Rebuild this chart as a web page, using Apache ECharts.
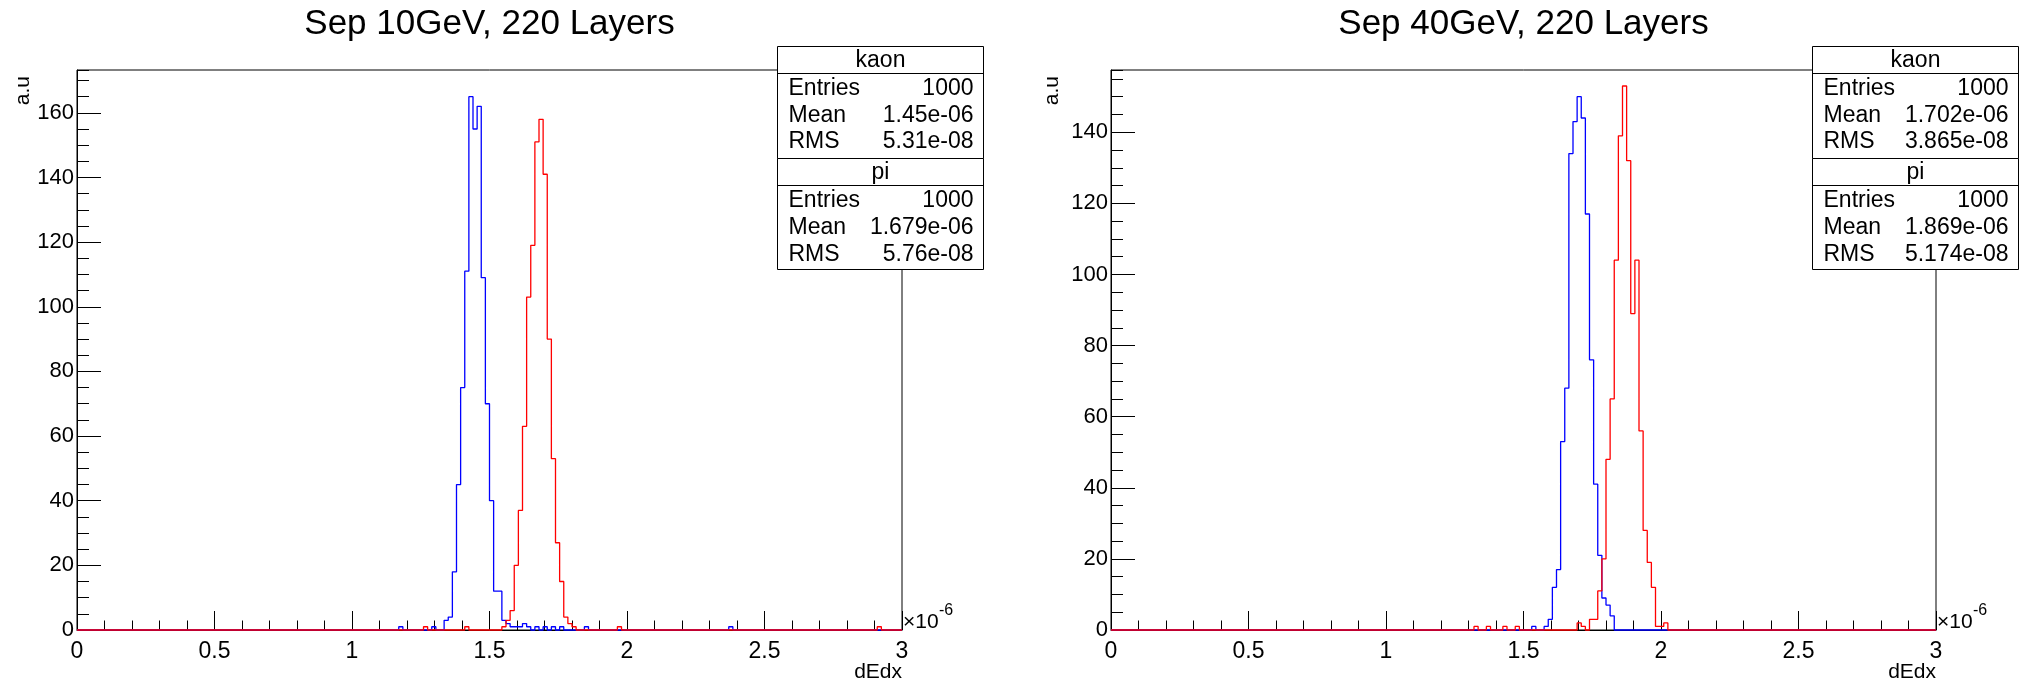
<!DOCTYPE html>
<html>
<head>
<meta charset="utf-8">
<script src="https://cdn.jsdelivr.net/npm/echarts@6/dist/echarts.min.js"></script>
<style>
  html, body { margin: 0; padding: 0; background: #fff; }
  #chart { width: 2025px; height: 682px; }
</style>
</head>
<body>
<div id="chart"></div>
<script>
// dE/dx histograms: 200 bins over [0, 3] x 1e-6
const BIN_WIDTH = 0.015;
const N_BINS = 200;

// 10 GeV sample
const kaon10First = 89;
const kaon10Counts = [3, 4, 18, 45, 75, 111, 165, 155, 162, 109, 70, 40, 12, 12,
                      3, 2, 1, 1, 1, 2, 1, 0, 1, 0, 1, 0, 1, 0, 1];
const kaon10Strays = [78, 86, 123, 158];
const pion10First = 103;
const pion10Counts = [1, 3, 6, 20, 37, 63, 103, 119, 151, 158, 141, 90, 53, 27, 15, 4, 2, 1];
const pion10Strays = [84, 94, 131, 194];

// 40 GeV sample
const kaon40First = 105;
const kaon40Counts = [1, 3, 12, 17, 53, 68, 134, 143, 150, 144, 117, 76, 41, 21, 9, 7, 4];
const kaon40Strays = [102];
const pion40First = 113;
const pion40Counts = [2, 1, 0, 3, 3, 11, 20, 48, 65, 104, 139, 153, 132, 89, 104, 56, 28, 19, 12, 1, 1, 2];
const pion40Strays = [88, 91, 95, 98];

// stat box contents
const statNames = ['Entries', 'Mean', 'RMS'];
const kaon10Stats = ['1000', '1.45e-06', '5.31e-08'];
const pion10Stats = ['1000', '1.679e-06', '5.76e-08'];
const kaon40Stats = ['1000', '1.702e-06', '3.865e-08'];
const pion40Stats = ['1000', '1.869e-06', '5.174e-08'];

const titles = ['Sep 10GeV, 220 Layers', 'Sep 40GeV, 220 Layers'];
const xTickLabels = ['0', '0.5', '1', '1.5', '2', '2.5', '3'];

const FONT = '"Liberation Sans", Arial, Helvetica, sans-serif';

function fillBins(first, counts, strays) {
  const c = new Array(N_BINS).fill(0);
  counts.forEach((v, i) => { c[first + i] += v; });
  strays.forEach(b => { c[b] += 1; });
  return c;
}

// outline of a histogram: flat top across each bin, vertical steps between bins
function outline(bins) {
  const pts = [];
  for (let i = 0; i < N_BINS; i++) {
    pts.push([i * BIN_WIDTH, bins[i]]);
    pts.push([(i + 1) * BIN_WIDTH, bins[i]]);
  }
  return pts;
}

const hists = [
  { kaon: fillBins(kaon10First, kaon10Counts, kaon10Strays),
    pion: fillBins(pion10First, pion10Counts, pion10Strays) },
  { kaon: fillBins(kaon40First, kaon40Counts, kaon40Strays),
    pion: fillBins(pion40First, pion40Counts, pion40Strays) }
];

const panels = [
  { left: 77, top: 70, width: 825, height: 560, auX: 23, boxX: 777, stats: [kaon10Stats, pion10Stats] },
  { left: 1111, top: 70, width: 825, height: 560, auX: 1052, boxX: 1812, stats: [kaon40Stats, pion40Stats] }
];

const grids = [], xAxes = [], yAxes = [], series = [], graphics = [];

panels.forEach((p, k) => {
  const yTop = 1.05 * Math.max(...hists[k].kaon);
  grids.push({
    left: p.left, top: p.top, width: p.width, height: p.height,
    show: true, borderColor: '#000', borderWidth: 1, backgroundColor: 'transparent',
    containLabel: false, outerBoundsMode: 'none'
  });
  xAxes.push({
    gridIndex: k, type: 'value', min: 0, max: 3, interval: 0.5, position: 'bottom',
    axisLine: { show: true, onZero: false, lineStyle: { color: '#000', width: 1 } },
    axisTick: { show: true, inside: true, length: 19, lineStyle: { color: '#000', width: 1 } },
    minorTick: { show: true, splitNumber: 5, length: 9.5, lineStyle: { color: '#000', width: 1 } },
    splitLine: { show: false }, minorSplitLine: { show: false },
    axisLabel: {
      color: '#000', fontFamily: FONT, fontSize: 23, margin: 10,
      formatter: v => xTickLabels[Math.round(v / 0.5)] ?? ''
    }
  });
  // major ticks + labels
  yAxes.push({
    gridIndex: k, type: 'value', min: 0, max: yTop, interval: 20, position: 'left',
    axisLine: { show: true, onZero: false, lineStyle: { color: '#000', width: 1 } },
    axisTick: { show: true, inside: true, length: 24, lineStyle: { color: '#000', width: 1 } },
    splitLine: { show: false },
    axisLabel: { color: '#000', fontFamily: FONT, fontSize: 22, margin: 3, showMaxLabel: false }
  });
  // minor ticks every 5
  yAxes.push({
    gridIndex: k, type: 'value', min: 0, max: yTop, interval: 5, position: 'left', offset: 0,
    axisLine: { show: false },
    axisTick: { show: true, inside: true, length: 12, lineStyle: { color: '#000', width: 1 } },
    splitLine: { show: false },
    axisLabel: { show: false }
  });
  const yIdx = k * 2;
  series.push({
    type: 'line', xAxisIndex: k, yAxisIndex: yIdx, data: outline(hists[k].kaon),
    showSymbol: false, symbol: 'none', clip: false, animation: false, silent: true,
    lineStyle: { color: '#0000ff', width: 1.3 }, z: 3
  });
  series.push({
    type: 'line', xAxisIndex: k, yAxisIndex: yIdx, data: outline(hists[k].pion),
    showSymbol: false, symbol: 'none', clip: false, animation: false, silent: true,
    lineStyle: { color: '#ff0000', width: 1.3 }, z: 4
  });

  const right = p.left + p.width;
  // title
  graphics.push({
    type: 'text', z: 10,
    style: { text: titles[k], x: p.left + p.width / 2, y: 24, fill: '#000',
             font: '35px ' + FONT, textAlign: 'center', textVerticalAlign: 'middle',
             align: 'center', verticalAlign: 'middle' }
  });
  // y title
  graphics.push({
    type: 'text', z: 10, x: p.auX, y: 76, rotation: Math.PI / 2,
    style: { text: 'a.u', x: 0, y: 0, fill: '#000', font: '21px ' + FONT,
             textAlign: 'right', textVerticalAlign: 'middle', align: 'right', verticalAlign: 'middle' }
  });
  // x title
  graphics.push({
    type: 'text', z: 10,
    style: { text: 'dEdx', x: right, y: 672, fill: '#000', font: '21px ' + FONT,
             textAlign: 'right', textVerticalAlign: 'middle', align: 'right', verticalAlign: 'middle' }
  });
  // axis exponent
  graphics.push({
    type: 'text', z: 10,
    style: { text: '\u00d710', x: right + 1, y: 622, fill: '#000', font: '21px ' + FONT,
             textAlign: 'left', textVerticalAlign: 'middle', align: 'left', verticalAlign: 'middle' }
  });
  graphics.push({
    type: 'text', z: 10,
    style: { text: '-6', x: right + 37, y: 611, fill: '#000', font: '16px ' + FONT,
             textAlign: 'left', textVerticalAlign: 'middle', align: 'left', verticalAlign: 'middle' }
  });

  // stat boxes
  const bx = p.boxX + 0.5, bw = 206;
  const boxes = [
    { name: 'kaon', top: 46.5, head: 73.5, bottom: 158.5, rows: [89, 116, 142], stats: p.stats[0] },
    { name: 'pi', top: 158.5, head: 185.5, bottom: 269.5, rows: [201, 228, 254.5], stats: p.stats[1] }
  ];
  boxes.forEach(b => {
    graphics.push({
      type: 'rect', z: 20,
      shape: { x: bx, y: b.top, width: bw, height: b.bottom - b.top },
      style: { fill: '#fff', stroke: '#000', lineWidth: 1 }
    });
    graphics.push({
      type: 'line', z: 21,
      shape: { x1: bx, y1: b.head, x2: bx + bw, y2: b.head },
      style: { stroke: '#000', lineWidth: 1 }
    });
    graphics.push({
      type: 'text', z: 22,
      style: { text: b.name, x: bx + bw / 2, y: (b.top + b.head) / 2 + 0.5, fill: '#000',
               font: '23px ' + FONT, textAlign: 'center', textVerticalAlign: 'middle',
               align: 'center', verticalAlign: 'middle' }
    });
    statNames.forEach((n, i) => {
      graphics.push({
        type: 'text', z: 22,
        style: { text: n, x: bx + 11, y: b.rows[i], fill: '#000', font: '23px ' + FONT,
                 textAlign: 'left', textVerticalAlign: 'middle', align: 'left', verticalAlign: 'middle' }
      });
      graphics.push({
        type: 'text', z: 22,
        style: { text: b.stats[i], x: bx + bw - 10, y: b.rows[i], fill: '#000', font: '23px ' + FONT,
                 textAlign: 'right', textVerticalAlign: 'middle', align: 'right', verticalAlign: 'middle' }
      });
    });
  });
});

const chart = echarts.init(document.getElementById('chart'), null, { renderer: 'canvas' });
chart.setOption({
  animation: false,
  backgroundColor: '#fff',
  grid: grids,
  xAxis: xAxes,
  yAxis: yAxes,
  series: series,
  graphic: graphics
});
</script>
</body>
</html>
